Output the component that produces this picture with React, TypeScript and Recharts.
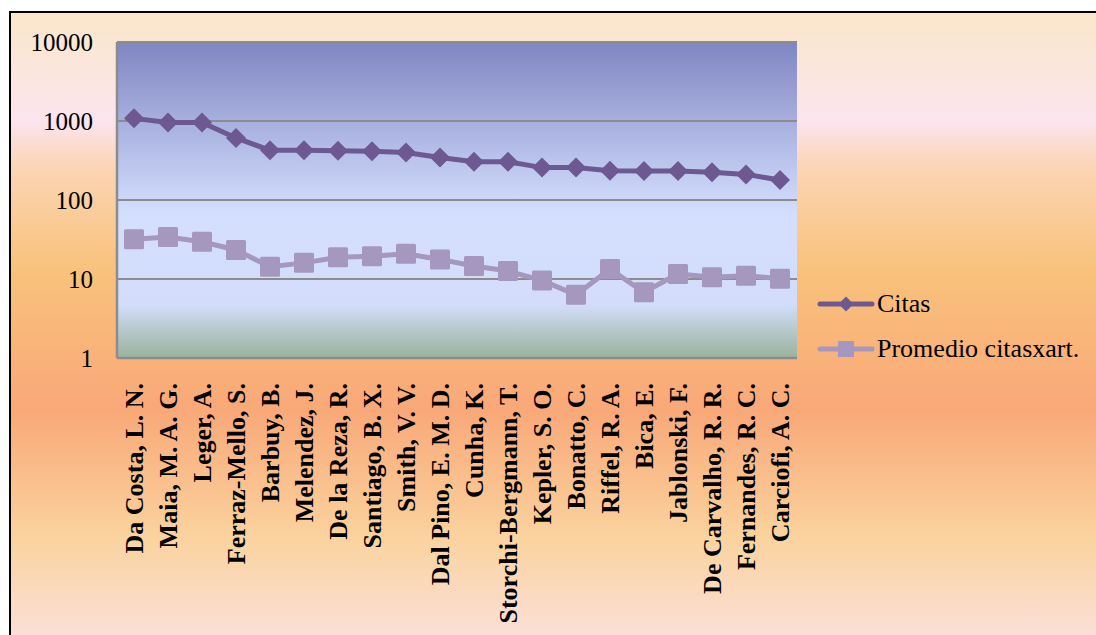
import React from "react";
import {
  CartesianGrid, Line, LineChart, XAxis, YAxis,
} from "recharts";

const authors = [
  "Da Costa, L. N.", "Maia, M. A. G.", "Leger, A.", "Ferraz-Mello, S.", "Barbuy, B.",
  "Melendez, J.", "De la Reza, R.", "Santiago, B. X.", "Smith, V. V.", "Dal Pino, E. M. D.",
  "Cunha, K.", "Storchi-Bergmann, T.", "Kepler, S. O.", "Bonatto, C.", "Riffel, R. A.",
  "Bica, E.", "Jablonski, F.", "De Carvalho, R. R.", "Fernandes, R. C.", "Carciofi, A. C.",
];
const citas = [1080, 960, 960, 610, 425, 425, 420, 415, 400, 345, 305, 305, 257, 257, 235, 233, 233, 224, 211, 179];
const promedio = [31.8, 34, 29.6, 23.3, 14.3, 16, 18.8, 19.4, 20.9, 17.7, 14.6, 12.6, 9.6, 6.3, 13.4, 6.8, 11.6, 10.5, 11.0, 10.1];
const yTicks = [1, 10, 100, 1000, 10000];

const rows = authors.map((a, i) => ({ author: a, citas: citas[i], promedio: promedio[i] }));

const FONT = "'Liberation Serif', 'Times New Roman', serif";
const DARK = "#6E5891";
const LIGHT = "#A597BD";
const GRID = "#8C8C8C";

const Diamond = (props: any) => {
  const { cx, cy, index } = props;
  const r = 10;
  return (
    <polygon key={`d${index}`} points={`${cx},${cy - r} ${cx + r},${cy} ${cx},${cy + r} ${cx - r},${cy}`} fill={DARK} />
  );
};

const Square = (props: any) => {
  const { cx, cy, index } = props;
  return <rect key={`s${index}`} x={cx - 10} y={cy - 10} width={20} height={20} rx={1.5} fill={LIGHT} />;
};

// vertical author names hanging below the plot
const AuthorTick = ({ x, y, payload }: any) => (
  <text
    x={0}
    y={0}
    dy="0.35em"
    transform={`translate(${x},${y + 17}) rotate(-90)`}
    textAnchor="end"
    fontFamily={FONT}
    fontWeight="bold"
    fontSize={26}
    fill="#000"
  >
    {payload.value}
  </text>
);

const legendItems = [
  { label: "Citas", color: DARK, shape: "diamond" },
  { label: "Promedio citasxart.", color: LIGHT, shape: "square" },
];

const LegendBox = () => (
  <div style={{ position: "absolute", left: 806, top: 268, fontFamily: FONT, fontSize: 26, color: "#000", whiteSpace: "nowrap" }}>
    {legendItems.map((it) => (
      <div key={it.label} style={{ display: "flex", alignItems: "center", height: 45 }}>
        <svg width={58} height={24} style={{ marginRight: 2 }}>
          <line x1={3} y1={12} x2={55} y2={12} stroke={it.color} strokeWidth={5} strokeLinecap="round" />
          {it.shape === "diamond" ? (
            <polygon points="29,4.5 36.5,12 29,19.5 21.5,12" fill={it.color} />
          ) : (
            <rect x={21} y={4} width={16} height={16} fill={it.color} />
          )}
        </svg>
        <span>{it.label}</span>
      </div>
    ))}
  </div>
);

export default function App() {
  return (
    <div
      style={{
        position: "fixed",
        left: 9,
        top: 11,
        width: 1100,
        height: 640,
        borderLeft: "2px solid #000",
        borderTop: "2px solid #000",
        background:
          "linear-gradient(to bottom, #FAE7CA 0%, #FCE4EE 17%, #FBD5B5 24%, #F9C27C 40%, #F9A878 62%, #FAD39E 82%, #FCE1E2 100%)",
      }}
    >
      <LineChart width={1085} height={622} data={rows} margin={{ top: 29, right: 299, bottom: 0, left: 0 }}>
        <defs>
          <linearGradient id="plotBg" x1="0" y1="0" x2="0" y2="1">
            <stop offset="0%" stopColor="#7F86C2" />
            <stop offset="45%" stopColor="#C6D0F4" />
            <stop offset="55%" stopColor="#D4DEFD" />
            <stop offset="83%" stopColor="#D3DDFB" />
            <stop offset="100%" stopColor="#9AB29C" />
          </linearGradient>
        </defs>
        <CartesianGrid vertical={false} stroke={GRID} strokeWidth={2} fill="url(#plotBg)" fillOpacity={1} />
        <XAxis
          dataKey="author"
          interval={0}
          padding={{ left: 17, right: 17 }}
          height={277}
          tick={<AuthorTick />}
          tickLine={false}
          axisLine={{ stroke: GRID, strokeWidth: 2.5 }}
        />
        <YAxis
          type="number"
          scale="log"
          domain={[1, 10000]}
          ticks={yTicks}
          allowDataOverflow
          width={106}
          tickSize={0}
          tickMargin={24}
          tickLine={false}
          axisLine={{ stroke: GRID, strokeWidth: 2.5 }}
          tick={{ fontFamily: FONT, fontSize: 25, fill: "#000" }}
        />
        <YAxis
          yAxisId="frame"
          orientation="right"
          width={0}
          tick={false}
          tickLine={false}
          axisLine={{ stroke: GRID, strokeWidth: 2.5 }}
        />
        <Line
          dataKey="promedio"
          name="Promedio citasxart."
          stroke={LIGHT}
          strokeWidth={5}
          dot={<Square />}
          activeDot={false}
          isAnimationActive={false}
        />
        <Line
          dataKey="citas"
          name="Citas"
          stroke={DARK}
          strokeWidth={5}
          dot={<Diamond />}
          activeDot={false}
          isAnimationActive={false}
        />
      </LineChart>
      <LegendBox />
    </div>
  );
}
